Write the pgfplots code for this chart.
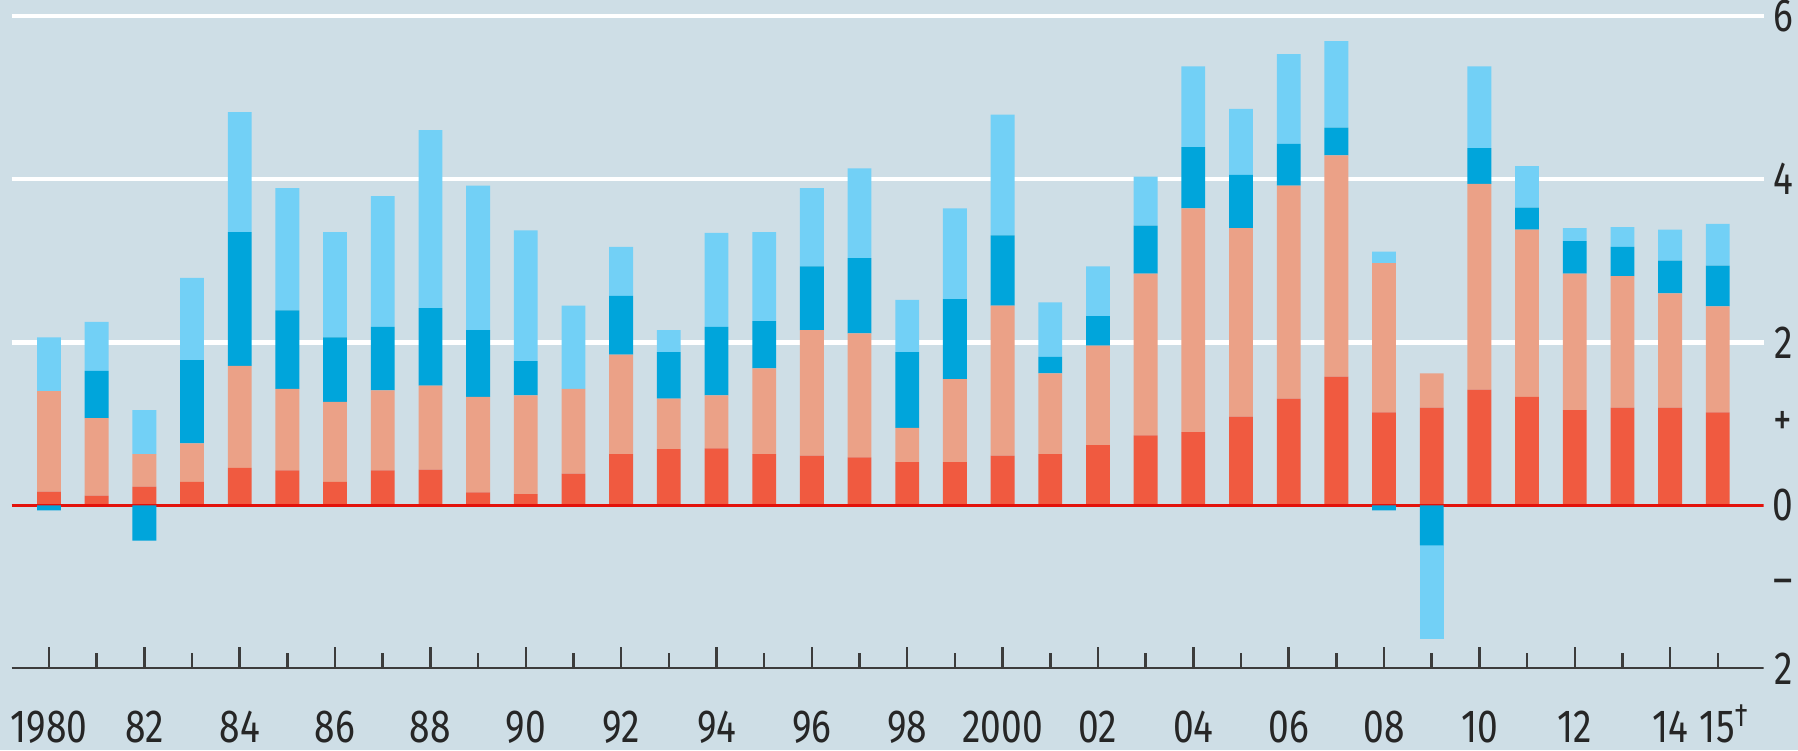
\documentclass[border=0pt]{standalone}
\usepackage{pgfplots}
\usepackage{pgfplotstable}
\pgfplotsset{compat=1.18}
\usepackage{fontspec}
\setmainfont{Fira Sans}[FakeStretch=0.8]
\definecolor{bgc}{RGB}{206,222,230}
\definecolor{cA}{RGB}{240,90,64}
\definecolor{cB}{RGB}{235,161,135}
\definecolor{cC}{RGB}{0,165,219}
\definecolor{cD}{RGB}{114,208,246}
\definecolor{zeroc}{RGB}{227,18,11}
\definecolor{textc}{RGB}{38,38,38}
\definecolor{tickc}{RGB}{60,60,60}

\pgfplotstableread{
year s1 s2 s3 s4
1980 0.17 1.23 0 0.66
1981 0.12 0.95 0.58 0.60
1982 0.23 0.40 0 0.54
1983 0.29 0.47 1.02 1.01
1984 0.46 1.25 1.64 1.47
1985 0.43 1.00 0.96 1.50
1986 0.29 0.98 0.79 1.29
1987 0.43 0.98 0.78 1.60
1988 0.44 1.03 0.95 2.18
1989 0.16 1.17 0.82 1.77
1990 0.14 1.21 0.42 1.60
1991 0.39 1.04 0 1.02
1992 0.63 1.22 0.72 0.60
1993 0.69 0.62 0.57 0.27
1994 0.70 0.65 0.84 1.15
1995 0.63 1.05 0.58 1.09
1996 0.61 1.54 0.78 0.96
1997 0.59 1.52 0.92 1.10
1998 0.53 0.42 0.93 0.64
1999 0.53 1.02 0.98 1.11
2000 0.61 1.84 0.86 1.48
2001 0.63 0.99 0.20 0.67
2002 0.74 1.22 0.36 0.61
2003 0.86 1.98 0.59 0.60
2004 0.90 2.74 0.75 0.99
2005 1.09 2.31 0.65 0.81
2006 1.31 2.61 0.51 1.10
2007 1.58 2.71 0.34 1.06
2008 1.14 1.83 0 0.14
2009 1.20 0.42 0 0
2010 1.42 2.52 0.44 1.00
2011 1.33 2.05 0.27 0.51
2012 1.17 1.67 0.40 0.16
2013 1.20 1.61 0.36 0.24
2014 1.20 1.40 0.40 0.38
2015 1.14 1.30 0.50 0.51
}\datapos

\pgfplotstableread{
year n3 n4
1980 -0.06 0
1982 -0.43 0
2008 -0.06 0
2009 -0.49 -1.14
}\dataneg

\begin{document}
\begin{tikzpicture}
\fill[bgc] (0,0) rectangle (179.8mm,75mm);
\pgfplotsset{myaxis/.style={
  scale only axis, width=175.22mm, height=66.87mm,
  at={(1.15mm,8.13mm)}, anchor=south west,
  xmin=1979.214, xmax=2015.963, ymin=-2, ymax=6.194,
  ybar stacked, bar width=0.5,
}}
\begin{axis}[myaxis,
  axis line style={draw=none},
  axis on top=false,
  xtick={1980,1982,...,2014},
  xticklabels={1980,82,84,86,88,90,92,94,96,98,2000,02,04,06,08,10,12,14},
  minor xtick={1981,1983,...,2013},
  extra x ticks={2015},
  extra x tick labels={15\textsuperscript{\textdagger}},
  extra x tick style={major tick length=1.6mm, xticklabel style={xshift=0.7mm}},
  xtick pos=left, xticklabel pos=left,
  tick align=inside,
  major tick length=2.2mm, minor tick length=1.6mm,
  xtick style={draw=tickc, line width=0.25mm},
  minor x tick style={draw=tickc, line width=0.25mm},
  xticklabel style={anchor=base, yshift=-7.33mm, text=textc, font=\fontsize{13.2}{15}\selectfont},
  ytick={-2,-1,0,1,2,4,6},
  yticklabels={2,–,0,+,2,4,6},
  yticklabel pos=right,
  ytick style={draw=none},
  yticklabel style={anchor=center, xshift=1.95mm, text=textc, font=\fontsize{13.2}{15}\selectfont},
  extra y ticks={2,4,6},
  extra y tick labels={},
  extra y tick style={ymajorgrids=true, major grid style={white, line width=0.45mm}, ytick style={draw=none}},
]
\addplot[fill=cA, draw=none] table[x=year, y=s1] {\datapos};
\addplot[fill=cB, draw=none] table[x=year, y=s2] {\datapos};
\addplot[fill=cC, draw=none] table[x=year, y=s3] {\datapos};
\addplot[fill=cD, draw=none] table[x=year, y=s4] {\datapos};
\draw[tickc, line width=0.25mm] (axis cs:1979.214,-2) -- (axis cs:2015.963,-2);
\end{axis}
\begin{axis}[myaxis, hide axis]
\addplot[fill=cC, draw=none] table[x=year, y=n3] {\dataneg};
\addplot[fill=cD, draw=none] table[x=year, y=n4] {\dataneg};
\draw[zeroc, line width=0.3mm] (axis cs:1979.214,0) -- (axis cs:2015.963,0);
\end{axis}
\pgfresetboundingbox
\useasboundingbox (0,0) rectangle (179.8mm,75mm);
\end{tikzpicture}
\end{document}
